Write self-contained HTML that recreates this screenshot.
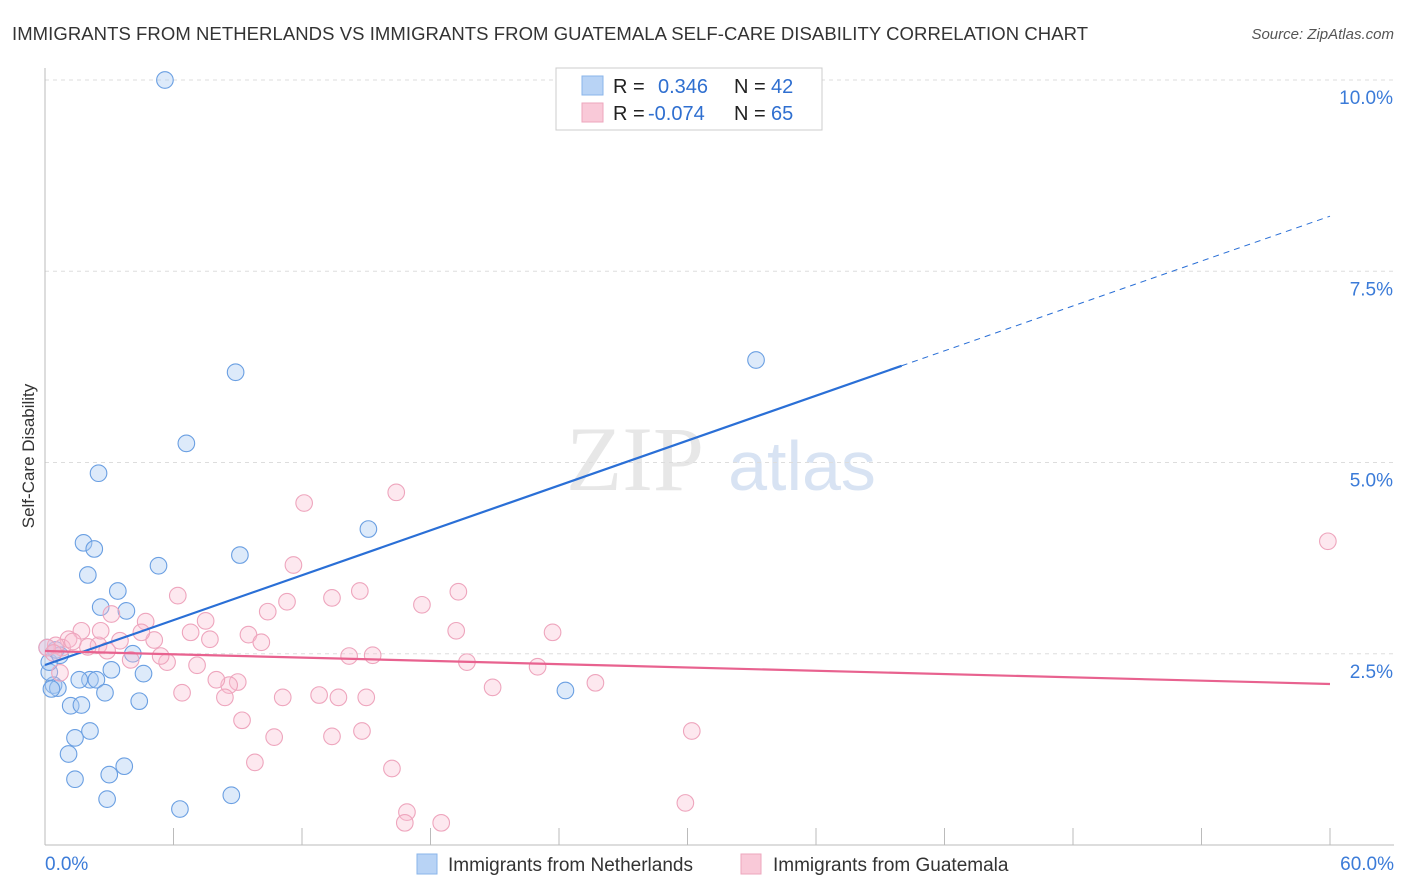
<!DOCTYPE html>
<html><head><meta charset="utf-8"><style>
body{margin:0;background:#fff;font-family:"Liberation Sans",sans-serif;}
svg{display:block}
</style></head><body>
<svg id="chart" width="1406" height="892" xmlns="http://www.w3.org/2000/svg">
<text x="12" y="40" font-size="18.5" fill="#333" textLength="1076">IMMIGRANTS FROM NETHERLANDS VS IMMIGRANTS FROM GUATEMALA SELF-CARE DISABILITY CORRELATION CHART</text>
<text x="1394" y="39" font-size="15" fill="#555" font-style="italic" text-anchor="end">Source: ZipAtlas.com</text>
<text x="34" y="456" font-size="17" fill="#333" text-anchor="middle" transform="rotate(-90 34 456)">Self-Care Disability</text>
<g><text x="635" y="490" font-size="92" fill="#ddd" font-family="Liberation Serif,serif" text-anchor="middle" opacity="0.7">ZIP</text><text x="802" y="490" font-size="70" fill="#c8d8ee" text-anchor="middle" opacity="0.7">atlas</text></g>
<g id="grid"></g><g id="axes"></g><g id="pts"></g><g id="trends"></g>
<g>
<rect x="556" y="68" width="266" height="62" fill="#fff" stroke="#ccc"/>
<rect x="582" y="76" width="21" height="19" fill="#b8d3f5" stroke="#8ab4ea"/>
<rect x="582" y="103" width="21" height="19" fill="#f9c9d8" stroke="#eda6bd"/>
<text x="613" y="93" font-size="20" fill="#222">R =</text><text x="658" y="93" font-size="20" fill="#2f6fd0">0.346</text>
<text x="734" y="93" font-size="20" fill="#222">N =</text><text x="771" y="93" font-size="20" fill="#2f6fd0">42</text>
<text x="613" y="120" font-size="20" fill="#222">R =</text><text x="648" y="120" font-size="20" fill="#2f6fd0">-0.074</text>
<text x="734" y="120" font-size="20" fill="#222">N =</text><text x="771" y="120" font-size="20" fill="#2f6fd0">65</text>
</g>
<g>
<rect x="417" y="854" width="20" height="20" fill="#b8d3f5" stroke="#8ab4ea"/>
<text x="448" y="871" font-size="19" fill="#333">Immigrants from Netherlands</text>
<rect x="741" y="854" width="20" height="20" fill="#f9c9d8" stroke="#eda6bd"/>
<text x="773" y="871" font-size="19" fill="#333">Immigrants from Guatemala</text>
</g>
</svg>
<script>
const yTicks=[2.5,5.0,7.5,10.0];
const xTickLabels=["0.0%","60.0%"];
const blueX=[5.6,8.9,6.6,2.5,33.2,15.1,9.1,1.8,2.3,5.3,2.0,3.4,2.6,3.8,24.3,4.1,3.1,4.6,2.1,1.6,2.4,2.8,4.4,0.4,0.6,0.2,0.2,1.2,1.7,2.1,1.4,1.1,3.7,3.0,1.4,2.9,6.3,8.7,0.5,0.1,0.7,0.3];
const blueY=[10.0,6.18,5.25,4.86,6.34,4.13,3.79,3.95,3.87,3.65,3.53,3.32,3.11,3.06,2.02,2.5,2.29,2.24,2.16,2.16,2.16,1.99,1.88,2.09,2.05,2.26,2.39,1.82,1.83,1.49,1.4,1.19,1.03,0.92,0.86,0.6,0.47,0.65,2.55,2.58,2.48,2.04];
const pinkX=[59.9,16.4,12.1,11.6,6.2,13.4,14.7,19.3,11.3,17.6,10.4,7.5,4.7,3.1,1.7,6.8,9.5,7.7,10.1,5.1,4.5,3.5,2.5,1.1,2.0,0.8,0.5,0.1,19.2,23.7,14.2,15.3,19.7,23.0,7.1,5.7,4.0,2.9,9.8,9.0,8.6,8.0,6.4,8.4,11.1,12.8,13.7,15.0,20.9,25.7,9.2,10.7,13.4,14.8,30.2,16.2,16.9,16.8,18.5,29.9,0.4,1.3,0.7,2.6,5.4];
const pinkY=[3.97,4.61,4.47,3.66,3.26,3.23,3.32,3.31,3.18,3.14,3.05,2.93,2.92,3.02,2.8,2.78,2.75,2.69,2.65,2.68,2.78,2.67,2.61,2.69,2.59,2.58,2.61,2.58,2.8,2.78,2.47,2.48,2.39,2.33,2.35,2.39,2.42,2.54,1.08,2.13,2.09,2.16,1.99,1.93,1.93,1.96,1.93,1.93,2.06,2.12,1.63,1.41,1.42,1.49,1.49,1.0,0.43,0.29,0.29,0.55,2.51,2.66,2.25,2.8,2.47];
const blueTrend=[2.353,8.22];
const pinkTrend=[2.536,2.105];
const NS="http://www.w3.org/2000/svg";
const X=v=>45+v/60*1285, Y=v=>845-v*76.5;
function mk(tag,a,parent){const e=document.createElementNS(NS,tag);for(const k in a)e.setAttribute(k,a[k]);document.getElementById(parent).appendChild(e);return e;}
yTicks.forEach(t=>{
 const l=mk('line',{x1:45,x2:1394,y1:Y(t),y2:Y(t),stroke:'#ddd','stroke-dasharray':'4,4'},'grid');
 
 
 const tx=mk('text',{x:1393,y:Y(t)+24,'font-size':19,fill:'#3b7bd8','text-anchor':'end'},'grid');
 tx.textContent=t.toFixed(1)+'%';
 
 
});
const ax=mk('line',{x1:45,x2:45,y1:68,y2:845,stroke:'#bbb'},'axes');


const bx=mk('line',{x1:45,x2:1394,y1:845,y2:845,stroke:'#bbb'},'axes');


for(let i=0;i<=10;i++){const tk=mk('line',{x1:X(i*6),x2:X(i*6),y1:828,y2:845,stroke:'#bbb'},'axes');
 
 }
[[0,'start',45],[60,'end',1394]].forEach((p,i)=>{const t=mk('text',{x:p[2],y:870,'font-size':19,fill:'#3b7bd8','text-anchor':p[1]},'axes');t.textContent=xTickLabels[i];
 
 });
blueX.forEach((x,i)=>{const c=mk('circle',{cx:X(x),cy:Y(blueY[i]),r:8.3,fill:'rgba(170,202,242,0.4)',stroke:'#6a9fe2','stroke-width':1.1},'pts');
 
 });
pinkX.forEach((x,i)=>{const c=mk('circle',{cx:X(x),cy:Y(pinkY[i]),r:8.3,fill:'rgba(248,190,208,0.35)',stroke:'#eea5bd','stroke-width':1.1},'pts');
 
 });
const bAt=x=>blueTrend[0]+(blueTrend[1]-blueTrend[0])*x/60;
const b1=mk('line',{x1:X(0),y1:Y(bAt(0)),x2:X(40),y2:Y(bAt(40)),stroke:'#2a6fd6','stroke-width':2.2},'trends');


const b2=mk('line',{x1:X(40),y1:Y(bAt(40)),x2:X(60),y2:Y(bAt(60)),stroke:'#2a6fd6','stroke-width':1,'stroke-dasharray':'6,5'},'trends');


const p1=mk('line',{x1:X(0),y1:Y(pinkTrend[0]),x2:X(60),y2:Y(pinkTrend[1]),stroke:'#e8628f','stroke-width':2.2},'trends');


</script>
</body></html>
